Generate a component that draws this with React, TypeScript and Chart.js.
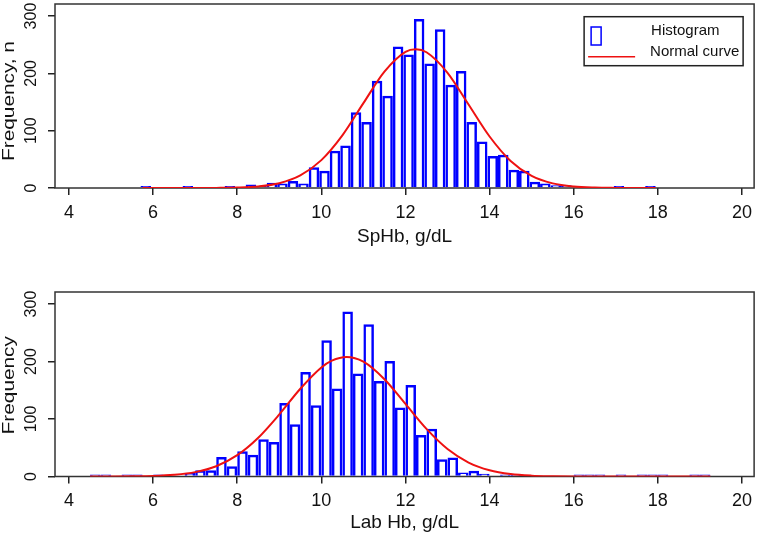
import React, { useEffect, useRef } from 'react'
import { Chart, registerables, Plugin } from 'chart.js'

Chart.register(...registerables)

const FONT = "'Liberation Sans', Arial, Helvetica, sans-serif"
const BIN = 0.25

// upper panel: SpHb (left bin edges, counts per bin)
const spHbBins = [
  5.7, 6.7, 7.7, 8.2, 8.45, 8.7, 8.95, 9.2, 9.45, 9.7, 9.95, 10.2, 10.45, 10.7, 10.95,
  11.2, 11.45, 11.7, 11.95, 12.2, 12.45, 12.7, 12.95, 13.2, 13.45, 13.7, 13.95, 14.2,
  14.45, 14.7, 14.95, 15.2, 15.45, 15.7, 16.95, 17.7
]
const spHbCounts = [
  1, 1, 1, 6, 1, 9, 8, 12, 8, 36, 30, 65, 74, 132, 115,
  187, 161, 247, 233, 295, 217, 277, 180, 204, 115, 81, 56, 58,
  32, 30, 11, 8, 5, 5, 1, 1
]
const spHbCurveX = [5.75, 6.5, 7, 7.5, 8, 8.5, 9, 9.5, 10, 10.5, 11, 11.5, 12, 12.25, 12.5, 13, 13.5, 14, 14.5, 15, 15.5, 16, 16.5, 17, 17.95]
const spHbCurveY = [0, 0, 0, 0.2, 0.8, 2.8, 8.4, 21.9, 48.6, 91.8, 148, 203, 237.6, 242, 236.8, 201, 145.6, 89.8, 47.2, 21.1, 8.1, 2.6, 0.7, 0.2, 0]

// lower panel: Lab Hb
const labHbBins = [
  4.5, 4.75, 5.25, 5.5, 6, 6.75, 7, 7.25, 7.5, 7.75, 8, 8.25, 8.5, 8.75, 9, 9.25,
  9.5, 9.75, 10, 10.25, 10.5, 10.75, 11, 11.25, 11.5, 11.75, 12, 12.25, 12.5, 12.75,
  13, 13.25, 13.5, 13.75, 14.25, 14.5, 16, 16.25, 16.5, 17, 17.5, 17.75, 18, 18.75, 19
]
const labHbCounts = [
  1, 1, 1, 1, 3, 6, 11, 11, 34, 18, 44, 38, 65, 60, 128, 91,
  182, 124, 237, 153, 287, 179, 265, 166, 201, 120, 159, 72, 83, 30,
  33, 7, 10, 5, 1, 1, 1, 1, 1, 1, 1, 1, 1, 1, 1
]
const labHbCurveX = [4.5, 5, 5.5, 6, 6.5, 7, 7.5, 8, 8.5, 9, 9.5, 10, 10.25, 10.6, 11, 11.5, 12, 12.5, 13, 13.5, 14, 14.5, 15, 15.5, 16, 17, 19.25]
const labHbCurveY = [0, 0.1, 0.3, 0.9, 2.9, 7.6, 17.9, 37.1, 67.5, 108, 152.7, 189.8, 201.6, 208, 199.7, 169.2, 126.2, 82.8, 47.8, 24.3, 10.9, 4.3, 1.5, 0.5, 0.1, 0, 0]

const xTicks = [4, 6, 8, 10, 12, 14, 16, 18, 20]
const yTicks = [0, 100, 200, 300]

interface PanelProps {
  bins: number[]
  counts: number[]
  curveX: number[]
  curveY: number[]
  xTitle: string
  yTitle: string
  showLegend?: boolean
  padTop: number
  axisHeight: number
  titlePad: number
  yTitleShift: number
}

const HistPanel: React.FC<PanelProps> = ({
  bins,
  counts,
  curveX,
  curveY,
  xTitle,
  yTitle,
  showLegend,
  padTop,
  axisHeight,
  titlePad,
  yTitleShift
}) => {
  const canvasRef = useRef<HTMLCanvasElement | null>(null)

  useEffect(() => {
    if (!canvasRef.current) return

    const decor: Plugin<'bar'> = {
      id: 'decor',
      beforeDatasetsDraw(chart) {
        const { ctx, chartArea: a } = chart
        ctx.save()
        ctx.strokeStyle = '#333'
        ctx.lineWidth = 1.5
        ctx.strokeRect(a.left, a.top, a.right - a.left, a.bottom - a.top)
        ctx.restore()
      },
      afterDraw(chart) {
        const { ctx, chartArea: a } = chart
        const ys = chart.scales.y
        ctx.save()
        ctx.fillStyle = '#111'
        ctx.textAlign = 'center'
        ctx.textBaseline = 'middle'
        ctx.font = `16px ${FONT}`
        ys.ticks.forEach((t) => {
          ctx.save()
          ctx.translate(32, ys.getPixelForValue(t.value))
          ctx.rotate(-Math.PI / 2)
          ctx.fillText(String(t.value), 0, 0)
          ctx.restore()
        })
        ctx.font = `16px ${FONT}`
        ctx.save()
        ctx.translate(10, (a.top + a.bottom) / 2 + yTitleShift)
        ctx.rotate(-Math.PI / 2)
        ctx.scale(1.3, 1)
        ctx.fillText(yTitle, 0, 0)
        ctx.restore()

        if (showLegend) {
          const left = a.right - 170
          const top = a.top + 12.7
          ctx.strokeStyle = '#222'
          ctx.lineWidth = 1.5
          ctx.strokeRect(left, top, 159, 49)
          ctx.strokeStyle = '#0000ff'
          ctx.strokeRect(left + 7, top + 10.3, 10, 18)
          ctx.strokeStyle = '#ee1111'
          ctx.beginPath()
          ctx.moveTo(left + 4, top + 40)
          ctx.lineTo(left + 51, top + 40)
          ctx.stroke()
          ctx.textAlign = 'left'
          ctx.font = `15px ${FONT}`
          ctx.fillText('Histogram', left + 67, top + 14)
          ctx.fillText('Normal curve', left + 66, top + 35)
        }
        ctx.restore()
      }
    }

    const chart = new Chart(canvasRef.current, {
      type: 'bar',
      data: {
        datasets: [
          {
            type: 'line',
            label: 'Normal curve',
            data: curveX.map((x, i) => ({ x, y: curveY[i] })),
            borderColor: '#ee1111',
            borderWidth: 2,
            pointRadius: 0,
            cubicInterpolationMode: 'monotone',
            order: 0
          } as any,
          {
            type: 'bar',
            label: 'Histogram',
            data: bins.map((b, i) => ({ x: b + BIN / 2, y: counts[i] })),
            backgroundColor: 'rgba(255,255,255,0)',
            borderColor: '#0000ff',
            borderWidth: 2.5,
            barPercentage: 1,
            categoryPercentage: 1,
            minBarLength: 2,
            inflateAmount: 0,
            order: 1
          }
        ]
      },
      options: {
        animation: false,
        responsive: true,
        maintainAspectRatio: false,
        events: [],
        layout: { padding: { left: 0, right: 4, top: padTop, bottom: 0 } },
        plugins: {
          legend: { display: false },
          tooltip: { enabled: false }
        },
        scales: {
          x: {
            type: 'linear',
            min: 3.667,
            max: 20.29,
            offset: false,
            afterBuildTicks: (s) => {
              s.ticks = xTicks.map((v) => ({ value: v }))
            },
            afterFit: (s) => {
              s.height = axisHeight
            },
            ticks: {
              color: '#111',
              padding: 7,
              maxRotation: 0,
              autoSkip: false,
              font: { family: FONT, size: 18 },
              callback: (v) => String(v)
            },
            grid: {
              display: true,
              offset: false,
              drawOnChartArea: false,
              drawTicks: true,
              tickLength: 7,
              color: '#222',
              lineWidth: 1.5
            },
            border: { display: false },
            title: {
              display: true,
              text: xTitle,
              color: '#111',
              font: { family: FONT, size: 19 },
              padding: { top: 0, bottom: titlePad }
            }
          },
          y: {
            type: 'linear',
            min: 0,
            max: 321,
            afterBuildTicks: (s) => {
              s.ticks = yTicks.map((v) => ({ value: v }))
            },
            afterFit: (s) => {
              s.width = 55
            },
            ticks: { display: false },
            grid: {
              display: true,
              drawOnChartArea: false,
              drawTicks: true,
              tickLength: 7,
              color: '#222',
              lineWidth: 1.5
            },
            border: { display: false }
          }
        }
      },
      plugins: [decor]
    })

    return () => {
      chart.destroy()
    }
  }, [bins, counts, curveX, curveY])

  return (
    <div style={{ position: 'relative', width: 759, height: 268 }}>
      <canvas ref={canvasRef} />
    </div>
  )
}

const App: React.FC = () => {
  return (
    <div style={{ position: 'absolute', left: 0, top: 0, width: 759, height: 536, background: '#fff' }}>
      <HistPanel
        bins={spHbBins}
        counts={spHbCounts}
        curveX={spHbCurveX}
        curveY={spHbCurveY}
        xTitle="SpHb, g/dL"
        yTitle="Frequency, n"
        showLegend
        padTop={4}
        axisHeight={80}
        titlePad={20}
        yTitleShift={5}
      />
      <HistPanel
        bins={labHbBins}
        counts={labHbCounts}
        curveX={labHbCurveX}
        curveY={labHbCurveY}
        xTitle="Lab Hb, g/dL"
        yTitle="Frequency"
        padTop={24}
        axisHeight={59.5}
        titlePad={1.6}
        yTitleShift={1}
      />
    </div>
  )
}

export default App
